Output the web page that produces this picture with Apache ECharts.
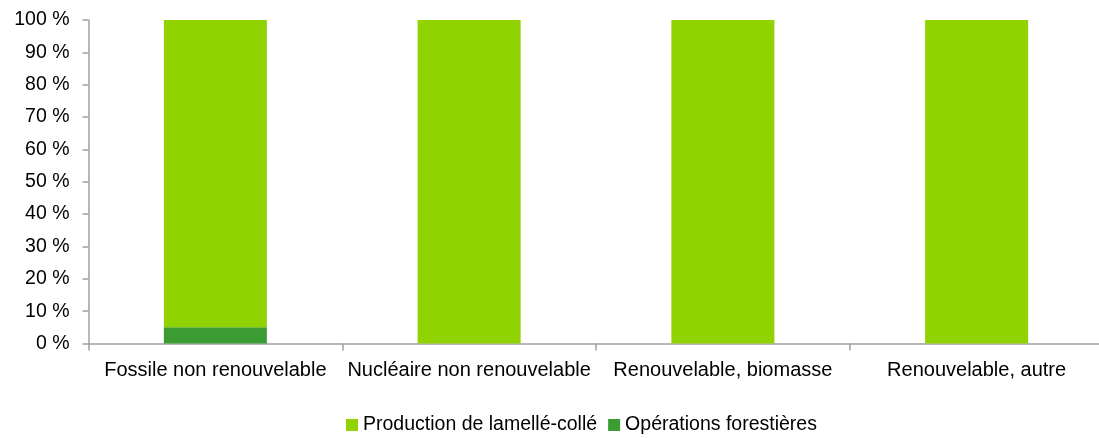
<!DOCTYPE html>
<html>
<head>
<meta charset="utf-8">
<script src="https://cdn.jsdelivr.net/npm/echarts@6/dist/echarts.min.js"></script>
<style>
html,body{margin:0;padding:0;background:#fff;}
#chart{width:1099px;height:438px;}
</style>
</head>
<body>
<div id="chart"></div>
<script>
const categories = ['Fossile non renouvelable', 'Nucléaire non renouvelable', 'Renouvelable, biomasse', 'Renouvelable, autre'];
const seriesNames = ['Production de lamellé-collé', 'Opérations forestières'];
const operationsForestieres = [5.0, 0, 0, 0];
const productionLamelleColle = [95.0, 100, 100, 100];

const chart = echarts.init(document.getElementById('chart'), null, {renderer: 'canvas'});
const font = 'Liberation Sans, Arial, sans-serif';
chart.setOption({
  animation: false,
  backgroundColor: '#ffffff',
  textStyle: {fontFamily: font},
  grid: {left: 88.5, width: 1015, top: 20, bottom: 94.5, containLabel: false, outerBoundsMode: 'none'},
  legend: {
    data: seriesNames,
    left: 341,
    top: 410,
    itemWidth: 12,
    itemHeight: 12,
    itemGap: 11,
    icon: 'rect',
    textStyle: {fontSize: 19.5, color: '#000', fontFamily: font}
  },
  xAxis: {
    type: 'category',
    data: categories,
    axisLine: {lineStyle: {color: '#a0a0a0', width: 1.5}},
    axisTick: {show: true, length: 7, alignWithLabel: false, lineStyle: {color: '#a0a0a0', width: 1.5}},
    axisLabel: {fontSize: 20, color: '#000', margin: 17, fontFamily: font, interval: 0}
  },
  yAxis: {
    type: 'value',
    min: 0, max: 100, interval: 10,
    axisLine: {show: true, lineStyle: {color: '#a0a0a0', width: 1.5}},
    axisTick: {show: true, length: 6, lineStyle: {color: '#a0a0a0', width: 1.5}},
    splitLine: {show: false},
    axisLabel: {fontSize: 19.5, color: '#000', margin: 19, fontFamily: font, formatter: '{value} %'}
  },
  series: [
    {
      name: seriesNames[1],
      type: 'bar',
      stack: 'total',
      data: operationsForestieres,
      barWidth: '40.6%',
      itemStyle: {color: '#3c9c34'}
    },
    {
      name: seriesNames[0],
      type: 'bar',
      stack: 'total',
      data: productionLamelleColle,
      barWidth: '40.6%',
      itemStyle: {color: '#91d300'}
    }
  ]
});
</script>
</body>
</html>
